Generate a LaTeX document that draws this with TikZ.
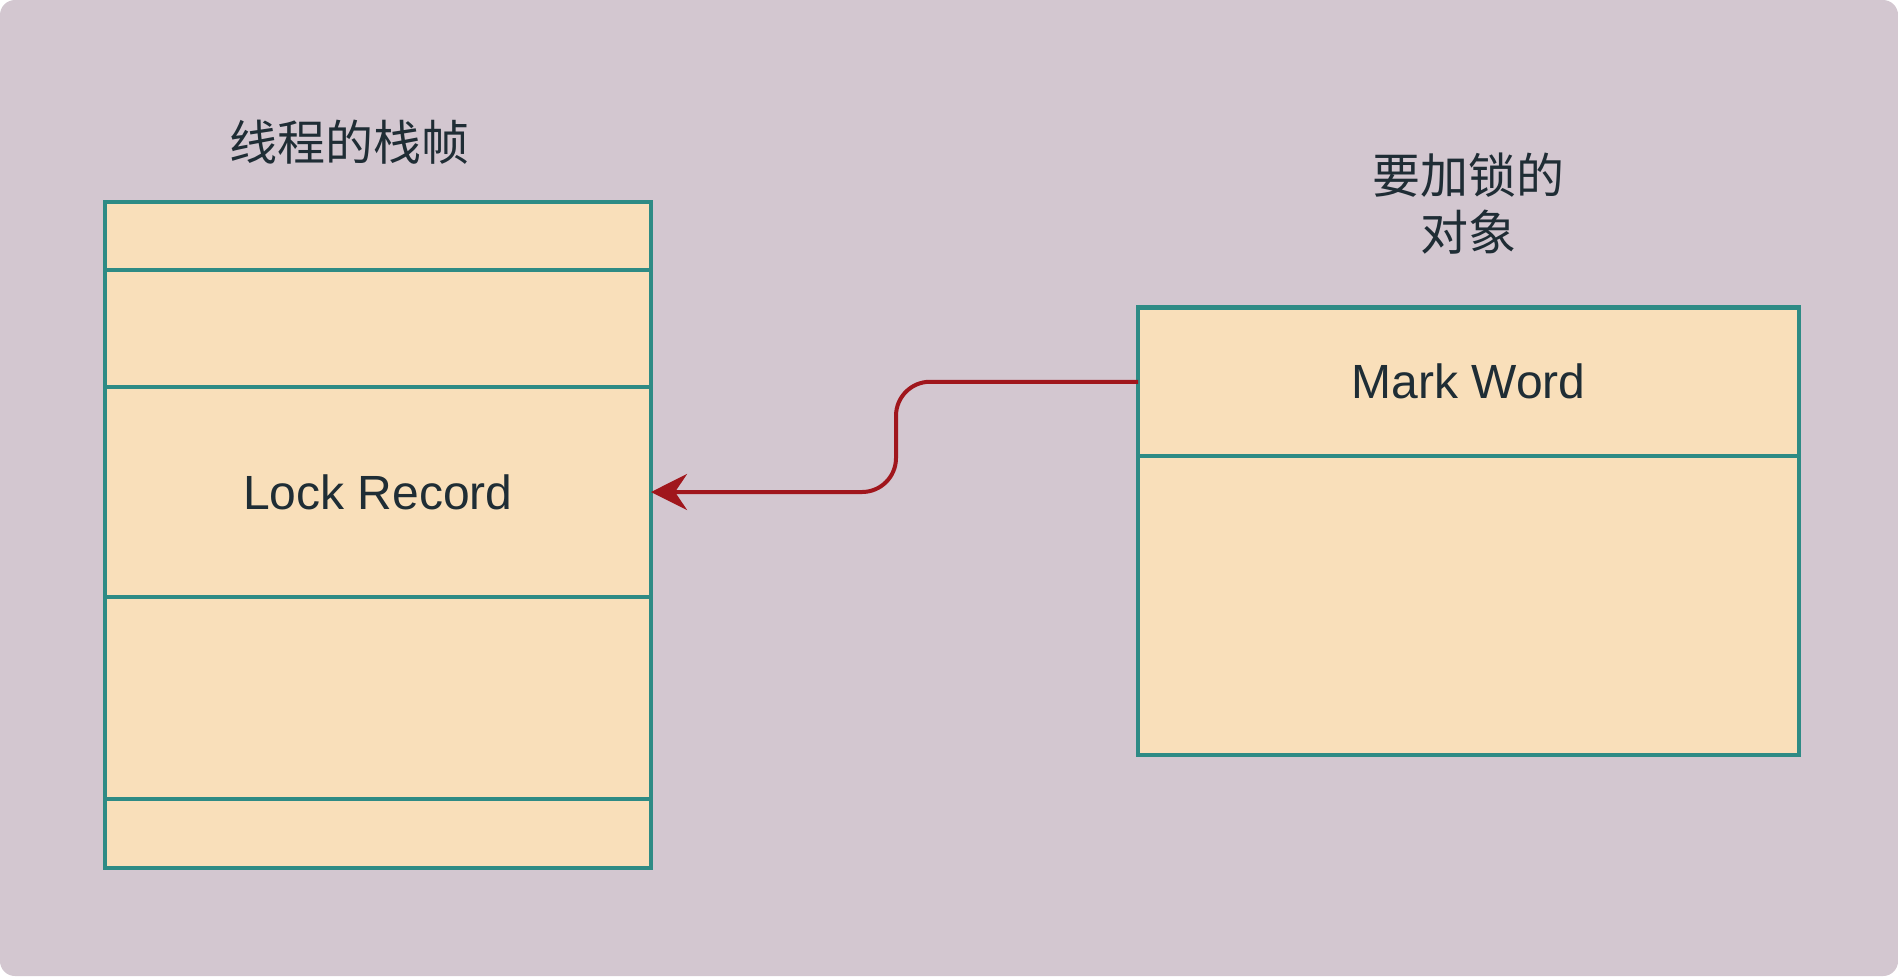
\documentclass[tikz,border=0pt]{standalone}
\usepackage{fontspec}
\setmainfont{Liberation Sans}
\newfontfamily\cjk{Noto Sans CJK SC}
\usetikzlibrary{positioning,arrows.meta}
\definecolor{bgcol}{HTML}{D3C7D0}
\definecolor{cellfill}{HTML}{F9DFBA}
\definecolor{cellline}{HTML}{2E8B85}
\definecolor{linkcol}{HTML}{A0161C}
\definecolor{txtcol}{HTML}{1F2D35}

\begin{document}
\begin{tikzpicture}[x=0.5pt,y=-0.5pt,
	cell/.style={draw=cellline,fill=cellfill,line width=2.4pt,outer sep=0pt,inner sep=0pt,
		font=\fontsize{24}{28}\selectfont,text=txtcol},
	lcell/.style={cell,minimum width=273pt},
	rcell/.style={cell,minimum width=330.5pt},
	title/.style={font=\cjk\fontsize{24}{28.5}\selectfont,text=txtcol,align=center},
	link/.style={draw=linkcol,line width=2pt,rounded corners=17pt,-{Stealth[length=18pt,width=18pt,inset=6pt]}}]
				\fill[white] (0,0) rectangle (1898,976);
				\fill[bgcol,rounded corners=7.5pt] (0,0) rectangle (1898,976);
				% stack frame
				\node[lcell,minimum height=34pt] (frame1) at (378,236) {};
				\node[lcell,minimum height=58.5pt,below=0pt of frame1] (frame2) {};
				\node[lcell,minimum height=105pt,below=0pt of frame2] (lock) {Lock Record};
				\node[lcell,minimum height=101pt,below=0pt of lock] (frame4) {};
				\node[lcell,minimum height=34.5pt,below=0pt of frame4] (frame5) {};
				\node[title] (frametitle) at (349,142) {线程的栈帧};
				% object
				\node[rcell,minimum height=74.25pt] (mark) at (1468.5,381.75) {Mark Word};
				\node[rcell,minimum height=149.5pt,below=0pt of mark] (body) {};
				\node[title] (objtitle) at (1468,204) {要加锁的\\对象};
				% pointer
				\coordinate (bend) at (896,0);
				\path[link] (mark.west) -| (bend |- lock.east) -- (lock.east);
			\end{tikzpicture}
\end{document}
